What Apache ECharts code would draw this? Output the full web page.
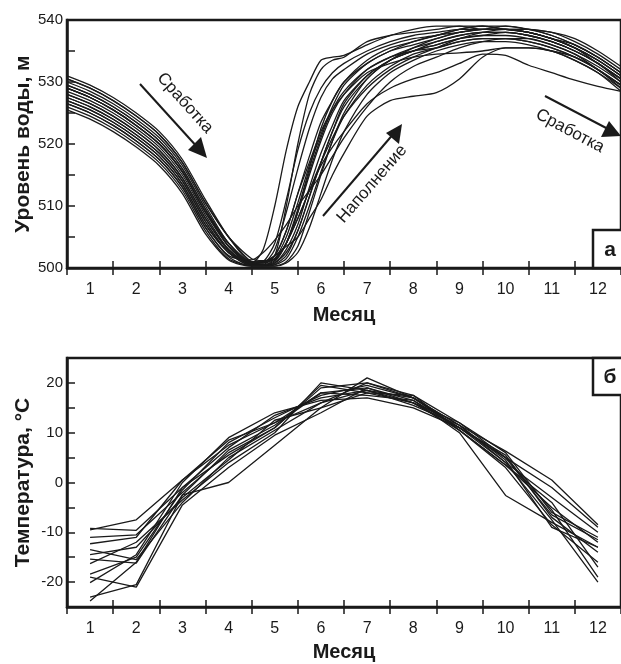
<!DOCTYPE html>
<html>
<head>
<meta charset="utf-8">
<script src="https://cdn.jsdelivr.net/npm/echarts@6/dist/echarts.min.js"></script>
<style>
html,body{margin:0;padding:0;background:#fff;}
#chart{width:621px;height:664px;}
</style>
</head>
<body>
<div id="chart"></div>
<script>
// ---------- DATA ----------
const months = ['1','2','3','4','5','6','7','8','9','10','11','12'];

// time (months from start of January) for water-level records
const levelTime = [0,0.5,1,1.5,2,2.5,3,3.5,4,4.25,4.5,4.75,5,5.25,5.5,5.75,6,6.5,7,7.5,8,8.5,9,9.5,10,10.5,11,11.5,12];

// water level, m (one array per year)
const level01 = [531,529.5,527.5,525,522,517.5,511,505,501,501,502,510,520,528,532,533.5,534,536.5,537.5,538,538.5,539,539,539,538.5,537.5,536,534,531.5];
const level02 = [530,528.5,526.5,524,521,516.5,510,504,500.8,500.8,503,509,516,522.5,527.5,530.5,532,534.5,536,537,537.5,538.5,539,538.5,538,537,535.5,533.5,531];
const level03 = [529.5,528,526,523.5,520.5,516,509.5,503.5,500.6,500.6,502,506,512,518,523.5,527,530,533,535,536,537,538,538.5,538.5,538,537,535.5,533,530.5];
const level04 = [528.5,527,525,522.5,519.5,515,508.5,503,500.5,500.5,501.2,504,509,515,520.5,525,528,532,534,535.5,536.5,537.5,538,538,537.5,536.5,535,533,530];
const level05 = [527.5,526,524,521.5,518.5,514,507.5,502.5,500.4,500.4,500.8,503,507,513,518.5,523,527,531,533.5,535,536,537,537.5,537.5,537,536,534.5,532,529.5];
const level06 = [526.5,525,523,520.5,517.5,513,506.5,501.8,500.3,500.3,500.5,501.5,505,510,515.5,520.5,524.5,529.5,532.5,534.5,535.5,536.5,537,537,536.5,535.5,534,532,529];
const level07 = [530.5,529,527,524.5,521.5,517,510.5,505,501.5,501.2,501.5,504,509.5,516,522.5,527,530,533.5,535.5,536.5,537.5,538.5,539,538.5,538,537,536,534,531.5];
const level08 = [529,527.5,525.5,523,520,515.5,509,503.5,500.6,500.5,500.8,502.5,506,511.5,517,522,526,530.5,533.5,535,536,537,537.5,538,537.5,536.5,535,533,530.5];
const level09 = [526,524.5,522.5,520,517,512.5,506,501.5,500.4,500.4,500.3,500.8,502.5,506.5,512,517.5,522,528,531.5,533.5,535,536,536.5,536.5,536,535,533.5,531.5,528.5];
const level10 = [528,526.5,524.5,522,519,514.5,508,502.8,500.6,500.5,501,504,509,515.5,521,525.5,528.5,532,534,535,535.5,536.5,537,537,536.5,535.5,534,532,529.5];
const level11 = [527,525.5,523.5,521,518,513.5,507,502.5,501,501,502,503.5,505,508,511,515,518.5,524.5,527,527.7,528.3,530.5,534,535.5,535.5,535,534,532,529.5];
const level12 = [529,527.5,525.5,523,520,515.5,509,504,501,501,501.5,504,508,512.5,516.5,519.5,522,526.5,529,530.5,531.5,533,534.5,534.3,532.7,531.5,530.3,529.3,528.5];
const level13 = [529,527.5,525.5,523,520,515.5,509,503.5,500.8,503,510,519,526,530,533.5,534,534.3,536,537.5,538.5,539,539,538.5,538.5,538.5,537.5,536,534,531.5];
const level14 = [528,526.5,524.5,522,519,514.5,508,503,500.7,501,504,511,519,525,529,531.5,533,535,536.5,537.5,538,538.5,538.5,538.5,538,537,535.5,533.5,531];
const level15 = [527.5,526,524,521.5,518.5,514,507.5,502.5,500.8,501,502,506,512,517,522,525.5,528,531.5,533,534,534.5,534.7,535,535.5,535.5,535,533.5,531.5,529];
const level16 = [526.5,525,523,520.5,517.5,513,506.5,502,501.3,502.5,504.5,507,510,512.5,515,518,521,526,530,532.5,534,535.5,536.5,537,537,536,534.5,532.5,530];
const level17 = [529.5,528,526,523.5,520.5,516,509.5,504,500.6,500.4,500.3,501,503.5,509,515,520.5,525,530.5,533.5,535.5,537,538,538.5,539,538.5,538,536.5,534.5,532];
const level18 = [530.5,529,527,524.5,521.5,517,510.5,505,501,500.8,501.5,504,508,512.5,517,521,524.5,529,532,534,535.5,537,538,538.5,538.5,538,537,535,532.5];
const level19 = [527,525.5,523.5,521,518,513.5,507,502.5,500.4,500.4,501.5,505,510.5,516.5,521.5,526,529.5,533,535,536.5,537.5,538,538.5,538.5,538,537,535.5,533.5,531];
const level20 = [525.5,524,522,519.5,516.5,512,505.5,501.3,500.3,500.3,500.6,502,506,511.5,517,522,526.5,531,533.5,535,536.5,537.5,538,538,537.5,536.5,535,533,530.5];

// monthly mean air temperature, °C (one array per year)
const temp01 = [-9.5,-7.5,0.5,8.5,12,18,19,16.5,11,5,-1,-9];
const temp02 = [-9.2,-9.6,-1,7,13.5,17,18.5,17,11.5,4,-3,-10];
const temp03 = [-11,-10.5,-2,6,11,19.5,18,16,10.5,3.5,-5,-12];
const temp04 = [-13.5,-15.5,-4,5,10.5,16,20,17.5,12,6,-6,-11];
const temp05 = [-14.5,-13,-3,4.5,12.5,15,21,17,11,5.5,-7,-14];
const temp06 = [-15.4,-16.2,-2.5,6.5,11.5,18,17.5,16.5,10,-2.6,-8,-13];
const temp07 = [-16.3,-12,-3.5,4,10,20,18.5,15.5,11.5,4.5,-9,-13];
const temp08 = [-18.4,-15,-1.5,8,13,17.5,19.5,17,10.5,3,-8.5,-16];
const temp09 = [-19,-21,-4.5,3,9.5,14,19,16,12,5,-5.5,-19];
const temp10 = [-20.1,-14.5,0,9,14,16.5,17,15,11,4,-7.5,-20];
const temp11 = [-23,-20.5,-2.5,0,7.5,15,18,17.5,10.5,3.5,-4,-17];
const temp12 = [-23.8,-16,-1,5.5,11,19,20,17,11.5,6.3,0.5,-8.5];
const temp13 = [-12.3,-11,0.5,7.5,12,16,18.5,16,11,5,-6.5,-11.5];

const levelYears = [level01,level02,level03,level04,level05,level06,level07,level08,level09,level10,level11,level12,level13,level14,level15,level16,level17,level18,level19,level20];
const tempYears = [temp01,temp02,temp03,temp04,temp05,temp06,temp07,temp08,temp09,temp10,temp11,temp12,temp13];

// ---------- CHART ----------
const FONT = '"Liberation Sans", Arial, sans-serif';
const INK = '#1a1a1a';
const chart = echarts.init(document.getElementById('chart'), null, {renderer:'canvas'});

const series = [];
levelYears.forEach((arr) => {
  series.push({
    type:'line', xAxisIndex:2, yAxisIndex:0, showSymbol:false, symbol:'none',
    smooth:0.25, silent:true,
    lineStyle:{color:INK, width:1.3},
    data: levelTime.map((t,i)=>[t, arr[i]]),
    z:2
  });
});
tempYears.forEach((arr) => {
  series.push({
    type:'line', xAxisIndex:3, yAxisIndex:1, showSymbol:false, symbol:'none',
    silent:true, lineStyle:{color:INK, width:1.3},
    data: arr, z:2
  });
});

function catAxis(grid, inside, labels, name, nameGap){
  return {
    type:'category', gridIndex:grid, data:months, position:'bottom',
    boundaryGap:true,
    axisLine:{show:!inside, onZero:false, lineStyle:{color:INK, width:2.5}},
    axisTick:{show:true, inside:inside, length:7, lineStyle:{color:INK, width:1.5}},
    axisLabel:{show:labels, color:INK, fontSize:16, fontFamily:FONT, margin:14},
    splitLine:{show:false},
    name: name || '', nameLocation:'middle', nameGap: nameGap || 0,
    nameTextStyle:{color:INK, fontSize:20, fontWeight:'bold', fontFamily:FONT}
  };
}

const option = {
  animation:false,
  backgroundColor:'#fff',
  grid:[
    {left:67, top:20, width:564, height:248, show:true, borderColor:INK, borderWidth:2.5, backgroundColor:'transparent'},
    {left:67, top:358, width:564, height:249, show:true, borderColor:INK, borderWidth:2.5, backgroundColor:'transparent'}
  ],
  xAxis:[
    catAxis(0,false,true,'Месяц',37),
    catAxis(0,true,false),
    {type:'value', gridIndex:0, min:0, max:12, show:false},
    catAxis(1,false,true,'Месяц',35),
    catAxis(1,true,false)
  ],
  yAxis:[
    {type:'value', gridIndex:0, min:500, max:540, interval:5,
     axisLine:{show:true, onZero:false, lineStyle:{color:INK, width:2.5}},
     axisTick:{show:true, inside:true, length:8, lineStyle:{color:INK, width:1.5}},
     axisLabel:{color:INK, fontSize:15, fontFamily:FONT, margin:4,
       formatter:v => (v % 10 === 0) ? String(v) : ''},
     splitLine:{show:false},
     name:'Уровень воды, м', nameLocation:'middle', nameGap:33, nameMoveOverlap:false,
     nameTextStyle:{color:INK, fontSize:21, fontWeight:'bold', fontFamily:FONT}},
    {type:'value', gridIndex:1, min:-25, max:25, interval:5,
     axisLine:{show:true, onZero:false, lineStyle:{color:INK, width:2.5}},
     axisTick:{show:true, inside:true, length:8, lineStyle:{color:INK, width:1.5}},
     axisLabel:{color:INK, fontSize:15, fontFamily:FONT, margin:4,
       formatter:v => (v % 10 === 0 && Math.abs(v) !== 25) ? String(v) : ''},
     splitLine:{show:false},
     name:'Температура, °С', nameLocation:'middle', nameGap:33, nameMoveOverlap:false,
     nameTextStyle:{color:INK, fontSize:21, fontWeight:'bold', fontFamily:FONT}}
  ],
  series: series,
  graphic:[
    // panel label boxes
    {type:'rect', shape:{x:593, y:230, width:40, height:38}, style:{fill:'#fff', stroke:INK, lineWidth:2.5}, z:10},
    {type:'text', x:610, y:250, style:{text:'а', font:'bold 21px '+FONT, fill:INK, textAlign:'center', textVerticalAlign:'middle'}, z:11},
    {type:'rect', shape:{x:593, y:358, width:40, height:37}, style:{fill:'#fff', stroke:INK, lineWidth:2.5}, z:10},
    {type:'text', x:610, y:377, style:{text:'б', font:'bold 21px '+FONT, fill:INK, textAlign:'center', textVerticalAlign:'middle'}, z:11},
    // arrow 1 (drawdown)
    {type:'line', shape:{x1:140, y1:84, x2:199, y2:149}, style:{stroke:INK, lineWidth:2}, z:10},
    {type:'polygon', shape:{points:[[207,158],[188,150],[201,137]]}, style:{fill:INK}, z:10},
    {type:'text', x:185, y:103, rotation:-48*Math.PI/180, style:{text:'Сработка', font:'17px '+FONT, fill:INK, textAlign:'center', textVerticalAlign:'middle'}, z:10},
    // arrow 2 (filling)
    {type:'line', shape:{x1:323, y1:216, x2:395, y2:132}, style:{stroke:INK, lineWidth:2}, z:10},
    {type:'polygon', shape:{points:[[402,124],[399,144],[386,133]]}, style:{fill:INK}, z:10},
    {type:'text', x:372, y:184, rotation:49*Math.PI/180, style:{text:'Наполнение', font:'17px '+FONT, fill:INK, textAlign:'center', textVerticalAlign:'middle'}, z:10},
    // arrow 3 (drawdown)
    {type:'line', shape:{x1:545, y1:96, x2:610, y2:130}, style:{stroke:INK, lineWidth:2}, z:10},
    {type:'polygon', shape:{points:[[621,136],[601,137],[609,121]]}, style:{fill:INK}, z:10},
    {type:'text', x:570, y:131, rotation:-28*Math.PI/180, style:{text:'Сработка', font:'17px '+FONT, fill:INK, textAlign:'center', textVerticalAlign:'middle'}, z:10}
  ]
};
chart.setOption(option);
</script>
</body>
</html>
